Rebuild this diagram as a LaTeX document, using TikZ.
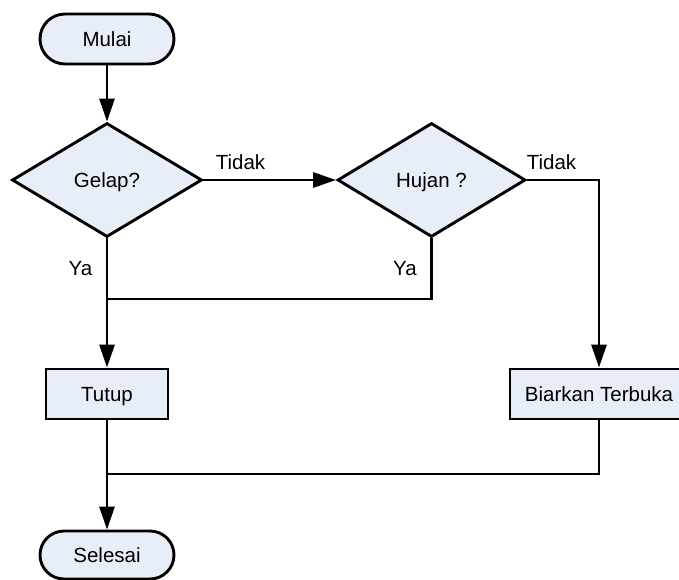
\documentclass[tikz,border=0pt]{standalone}
\usepackage{fontspec}
\setmainfont{Liberation Sans}
\usetikzlibrary{shapes.geometric,arrows.meta}
\definecolor{boxfill}{HTML}{E8EEF7}
\tikzset{
  every node/.style={font=\fontsize{20.5}{24}\selectfont, inner sep=0pt, text height=14.7pt, text depth=0pt},
  terminal/.style={draw, line width=2.9pt, fill=boxfill, rounded corners=25pt, minimum width=134pt, minimum height=50pt},
  decision/.style={draw, line width=2.9pt, fill=boxfill, diamond, minimum width=190pt, minimum height=114pt},
  process/.style={draw, line width=2.9pt, fill=boxfill, minimum height=50pt},
  conn/.style={line width=2.9pt},
  arr/.style={conn, -{Triangle[length=23pt,width=15pt]}},
  lbl/.style={anchor=center}
}
\begin{document}
\begin{tikzpicture}[x=1pt,y=-1pt]
\useasboundingbox (0,0) rectangle (679,580);
\clip (0,0) rectangle (679,580);
\node[terminal] (mulai) at (107,39) {Mulai};
\node[decision] (gelap) at (107,180) {Gelap?};
\node[decision, minimum width=188pt] (hujan) at (431.5,180) {Hujan ?};
\node[process, minimum width=122pt] (tutup) at (107,394) {Tutup};
\node[process, minimum width=178pt] (biarkan) at (599,394) {Biarkan Terbuka};
\node[terminal, minimum height=48pt, rounded corners=24pt] (selesai) at (107,555) {Selesai};
\coordinate (j1) at (107,299);
\coordinate (j2) at (107,474);
\draw[arr] (mulai) -- (gelap);
\draw[arr] (gelap.east) -- (hujan.west);
\draw[arr] (hujan.east) -| (biarkan.north);
\draw[arr] (gelap.south) -- (tutup.north);
\draw[conn] (hujan.south) |- (j1);
\draw[arr] (tutup.south) -- (selesai.north);
\draw[conn] (biarkan.south) |- (j2);
\node[lbl] (t1) at (240.5,162) {Tidak};
\node[lbl] (t2) at (551.5,162) {Tidak};
\node[lbl] (y1) at (80.5,268) {Ya};
\node[lbl] (y2) at (405,268) {Ya};
\end{tikzpicture}
\end{document}
